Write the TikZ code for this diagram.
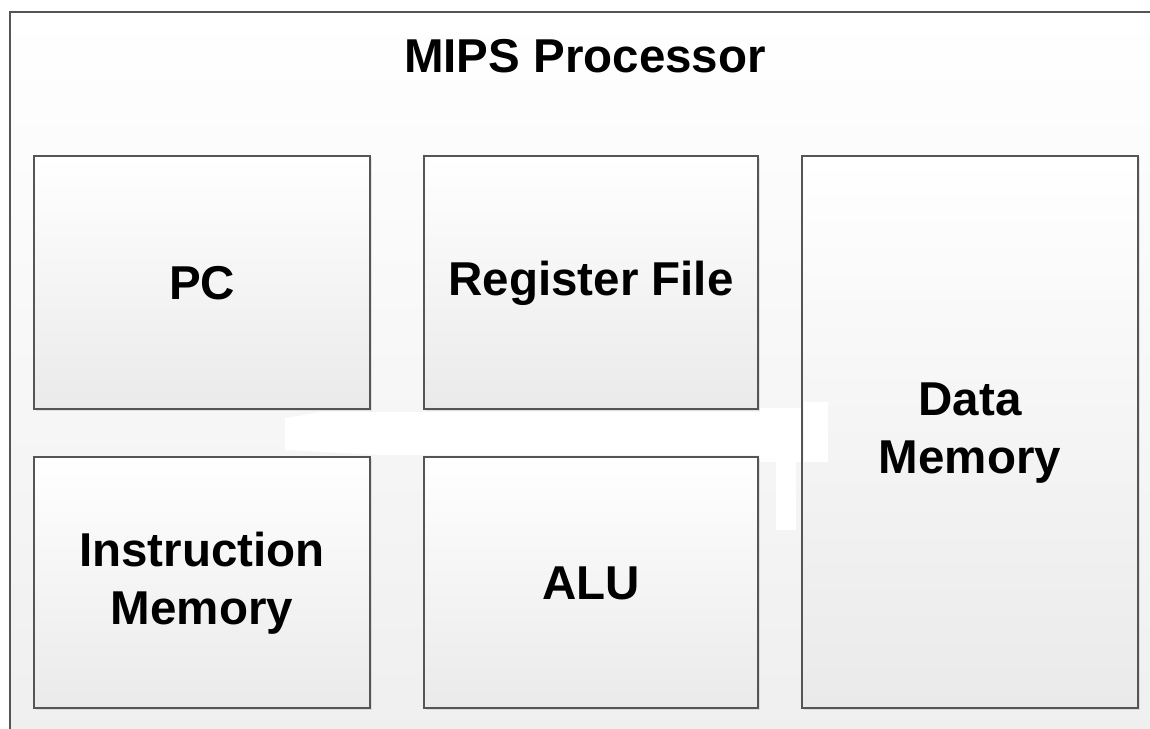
\documentclass[tikz,border=0pt]{standalone}
\usepackage{fontspec}
\setmainfont{Liberation Sans}
\usetikzlibrary{shadows}
\definecolor{edge}{HTML}{555555}
\definecolor{boxbot}{HTML}{EAEAEA}
\definecolor{bgbot}{HTML}{EFEFEF}
\tikzset{
  unit/.style={draw=edge, line width=2pt, top color=white, bottom color=boxbot,
    drop shadow={opacity=0.18, shadow xshift=2pt, shadow yshift=-2pt}},
  lbl/.style={font=\fontsize{47.5}{58}\selectfont\bfseries, align=center, text=black},
}
\begin{document}
\begin{tikzpicture}[x=1pt,y=-1pt]
\useasboundingbox (0,0) rectangle (1150,728);
\clip (0,0) rectangle (1150,728);
\fill[white] (0,0) rectangle (1150,728);
% outer processor frame
\node[draw=edge, line width=2pt, top color=white, bottom color=bgbot,
      minimum width=1160pt, minimum height=730pt, anchor=north west, inner sep=0pt]
      (frame) at (9,11) {};
\node[lbl] (title) at (585,56) {MIPS Processor};
% units
\draw[unit] (34,156) rectangle (370,409);
\node[lbl] (pc) at (202,283) {PC};
\draw[unit] (424,156) rectangle (758,409);
\node[lbl] (rf) at (591,283) {Register File};
\draw[unit] (802,156) rectangle (1138,708);
\node[lbl] (dm) at (970,433) {Data\\Memory};
\draw[unit] (34,457) rectangle (370,708);
\node[lbl] (im) at (202,583) {Instruction\\Memory};
\draw[unit] (424,457) rectangle (758,708);
\node[lbl] (alu) at (591,583) {ALU};
% erased patch
\fill[white] (285,418) -- (320,412) -- (760,412) -- (762,455) -- (380,455) -- (285,450) -- cycle;
\fill[white] (760,408) rectangle (801,462);
\fill[white] (804,402) rectangle (828,462);
\fill[white] (776,455) rectangle (796,530);
\end{tikzpicture}
\end{document}
